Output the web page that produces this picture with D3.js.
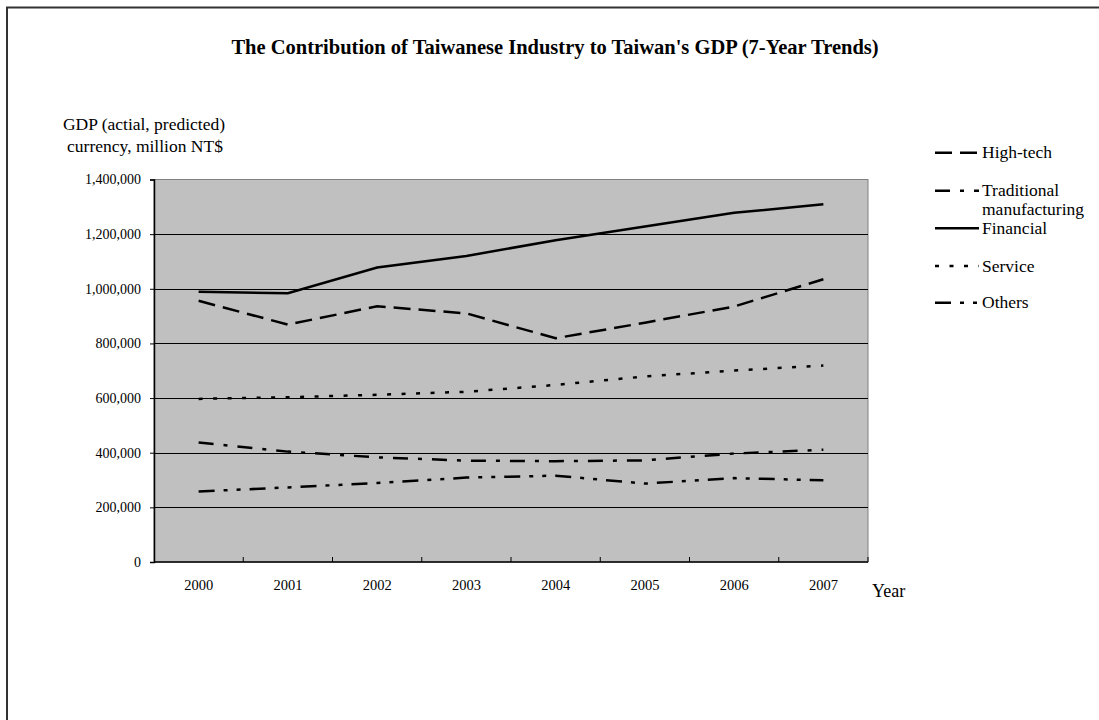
<!DOCTYPE html>
<html>
<head>
<meta charset="utf-8">
<script src="https://cdn.jsdelivr.net/npm/d3@7"></script>
<style>
  html, body { margin: 0; padding: 0; background: #fff; }
  svg { display: block; }
  text { font-family: "Liberation Serif", "Times New Roman", serif; fill: #000; }
</style>
</head>
<body>
<svg id="chart" width="1099" height="720"></svg>
<script>
// Years on the category axis
const years = ["2000", "2001", "2002", "2003", "2004", "2005", "2006", "2007"];

// GDP contribution per industry, million NT$
const highTech    = [956000, 869000, 936000, 910000, 819000, 876000, 935000, 1035000];
const traditional = [437000, 404000, 383000, 371000, 369000, 372000, 397000, 411000];
const financial   = [989000, 984000, 1078000, 1120000, 1178000, 1228000, 1278000, 1309000];
const service     = [597000, 603000, 612000, 623000, 648000, 679000, 701000, 719000];
const others      = [258000, 273000, 289000, 309000, 316000, 287000, 307000, 299000];

const seriesNames = ["High-tech", "Traditional manufacturing", "Financial", "Service", "Others"];
const yTicks = [0, 200000, 400000, 600000, 800000, 1000000, 1200000, 1400000];

const series = [
  { name: seriesNames[0], values: highTech,    dash: "17,8" },
  { name: seriesNames[1], values: traditional, dash: "15,10,4,10" },
  { name: seriesNames[2], values: financial,   dash: null },
  { name: seriesNames[3], values: service,     dash: "4,10.5" },
  { name: seriesNames[4], values: others,      dash: "16,9,4,9,4,9" }
];

const svg = d3.select("#chart");

// outer frame
svg.append("rect")
  .attr("x", 7).attr("y", 7.5)
  .attr("width", 1200).attr("height", 800)
  .attr("fill", "none").attr("stroke", "#333").attr("stroke-width", 2);

const plot = { left: 154, top: 179.5, right: 868, bottom: 562 };

const x = d3.scaleBand().domain(years).range([plot.left, plot.right]).paddingInner(0).paddingOuter(0);
const y = d3.scaleLinear().domain([0, 1400000]).range([plot.bottom, plot.top]);

// title
svg.append("text")
  .attr("x", 555).attr("y", 54)
  .attr("text-anchor", "middle")
  .attr("font-size", 20.5).attr("font-weight", "bold")
  .text("The Contribution of Taiwanese Industry to Taiwan's GDP (7-Year Trends)");

// plot background
svg.append("rect")
  .attr("x", plot.left).attr("y", plot.top)
  .attr("width", plot.right - plot.left).attr("height", plot.bottom - plot.top)
  .attr("fill", "#c0c0c0").attr("stroke", "#808080").attr("stroke-width", 1);

// horizontal gridlines
svg.append("g")
  .selectAll("line")
  .data(yTicks.filter(d => d > 0 && d < 1400000))
  .join("line")
  .attr("x1", plot.left).attr("x2", plot.right)
  .attr("y1", d => Math.round(y(d)) + 0.5).attr("y2", d => Math.round(y(d)) + 0.5)
  .attr("stroke", "#000").attr("stroke-width", 1);

// y axis
const yAxis = d3.axisLeft(y).tickValues(yTicks).tickFormat(d3.format(",")).tickSize(4).tickPadding(9);
const gy = svg.append("g").attr("transform", `translate(${plot.left},0)`).call(yAxis);
gy.select(".domain").attr("stroke", "#000").attr("stroke-width", 1.5);
gy.selectAll(".tick line").attr("stroke", "#000");
gy.selectAll(".tick text")
  .attr("font-family", "Liberation Serif, serif").attr("font-size", 14).attr("fill", "#000");

// x axis: inward ticks at category boundaries
const gx = svg.append("g").attr("transform", `translate(0,${plot.bottom})`);
gx.append("line")
  .attr("x1", plot.left).attr("x2", plot.right)
  .attr("y1", 0).attr("y2", 0)
  .attr("stroke", "#000").attr("stroke-width", 1.5);
gx.selectAll("line.tk")
  .data(years.slice(1).concat(["end"]))
  .join("line")
  .attr("class", "tk")
  .attr("x1", (d, i) => i < years.length - 1 ? x(d) : plot.right)
  .attr("x2", (d, i) => i < years.length - 1 ? x(d) : plot.right)
  .attr("y1", 0).attr("y2", -5)
  .attr("stroke", "#000");
gx.selectAll("text")
  .data(years)
  .join("text")
  .attr("x", d => x(d) + x.bandwidth() / 2)
  .attr("y", 28)
  .attr("text-anchor", "middle")
  .attr("font-size", 14.5)
  .text(d => d);

// axis titles
svg.append("text").attr("x", 144).attr("y", 130).attr("text-anchor", "middle")
  .attr("font-size", 17.5).text("GDP (actial, predicted)");
svg.append("text").attr("x", 145).attr("y", 152).attr("text-anchor", "middle")
  .attr("font-size", 17.5).text("currency, million NT$");
svg.append("text").attr("x", 872).attr("y", 597)
  .attr("font-size", 18).text("Year");

// series lines
const line = d3.line()
  .x((d, i) => x(years[i]) + x.bandwidth() / 2)
  .y(d => y(d));

svg.append("g")
  .selectAll("path")
  .data(series)
  .join("path")
  .attr("d", d => line(d.values))
  .attr("fill", "none")
  .attr("stroke", "#000")
  .attr("stroke-width", 2.5)
  .attr("stroke-dasharray", d => d.dash);

// legend
const legendRows = [152.7, 190.7, 228.3, 266, 302.7];
const lg = svg.append("g");
series.forEach((s, i) => {
  const yy = legendRows[i];
  lg.append("line")
    .attr("x1", 935).attr("x2", 979)
    .attr("y1", yy).attr("y2", yy)
    .attr("stroke", "#000").attr("stroke-width", 2.5)
    .attr("stroke-dasharray", s.dash);
  if (s.name === "Traditional manufacturing") {
    lg.append("text").attr("x", 982).attr("y", yy + 5.5).attr("font-size", 17.5).text("Traditional");
    lg.append("text").attr("x", 982).attr("y", yy + 24).attr("font-size", 17.5).text("manufacturing");
  } else {
    lg.append("text").attr("x", 982).attr("y", yy + 5.5).attr("font-size", 17.5).text(s.name);
  }
});
</script>
</body>
</html>
